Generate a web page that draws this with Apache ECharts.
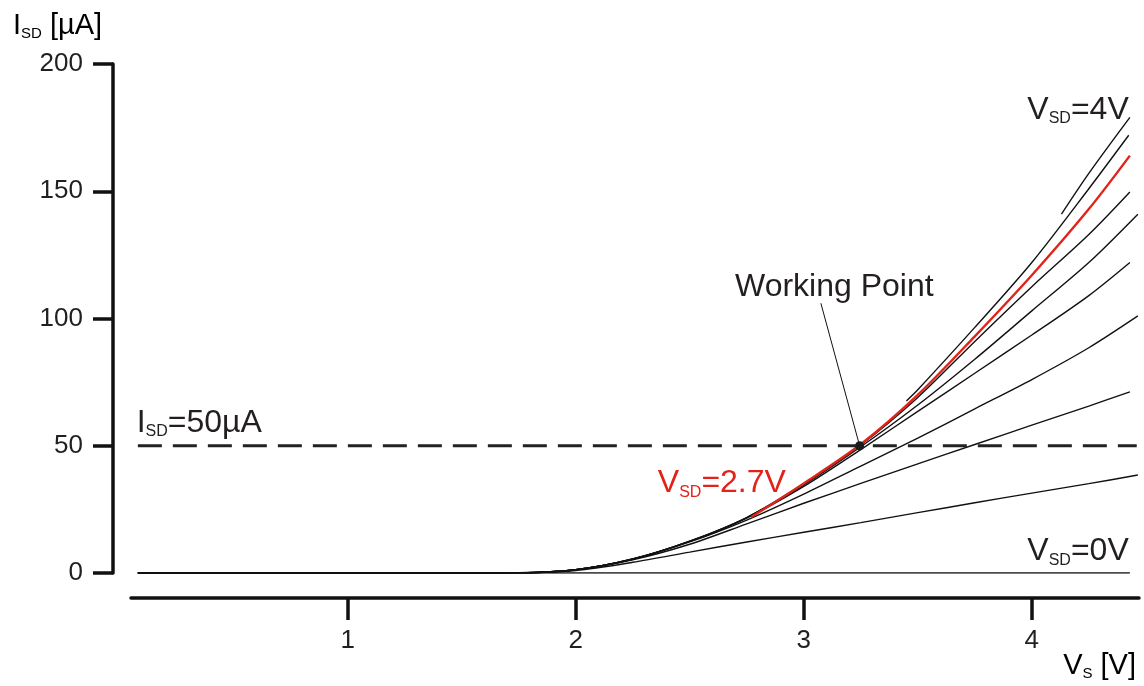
<!DOCTYPE html>
<html>
<head>
<meta charset="utf-8">
<title>I_SD vs V_S</title>
<script src="https://cdn.jsdelivr.net/npm/echarts@6/dist/echarts.min.js"></script>
<style>
  html, body { margin: 0; padding: 0; background: #fff; }
  #chart { width: 1144px; height: 686px; }
</style>
</head>
<body>
<div id="chart"></div>
<script>
// Transfer characteristics: source current I_SD [µA] against source voltage V_S [V],
// one curve per source-drain voltage V_SD.
const xTicks = [1, 2, 3, 4];
const yTicks = [0, 50, 100, 150, 200];

const vsd0  = [[0.08, 0], [4.43, 0]];
const vsd03 = [[0.08, 0], [1.0, 0], [1.5, 0], [1.75, 0.1], [2.0, 1.0], [2.25, 4.2], [2.5, 8.2], [2.75, 12.2], [3.0, 16.0], [3.25, 19.8], [3.5, 23.7], [3.75, 27.6], [4.0, 31.4], [4.25, 35.1], [4.465, 38.5]];
const vsd07 = [[0.08, 0], [1.0, 0], [1.5, 0], [1.75, 0.1], [2.0, 1.3], [2.25, 5.2], [2.5, 11.3], [2.75, 19.3], [3.0, 27.4], [3.25, 35.2], [3.5, 42.9], [3.75, 50.5], [4.0, 58.1], [4.25, 65.6], [4.43, 71.2]];
const vsd10 = [[0.08, 0], [1.0, 0], [1.5, 0], [1.75, 0.1], [2.0, 1.3], [2.25, 5.4], [2.5, 12.2], [2.75, 20.8], [3.0, 31.0], [3.25, 42.0], [3.5, 53.0], [3.75, 64.5], [4.0, 76.0], [4.25, 88.5], [4.465, 101]];
const vsd13 = [[0.08, 0], [1.0, 0], [1.5, 0], [1.75, 0.1], [2.0, 1.3], [2.25, 5.5], [2.5, 12.4], [2.75, 21.6], [3.0, 34.0], [3.25, 48.5], [3.5, 63.5], [3.75, 78.5], [4.0, 93.5], [4.25, 109], [4.43, 122]];
const vsd17 = [[0.08, 0], [1.0, 0], [1.5, 0], [1.75, 0.1], [2.0, 1.3], [2.25, 5.5], [2.5, 12.5], [2.75, 21.8], [3.0, 34.6], [3.25, 49.6], [3.5, 66.0], [3.75, 84.0], [4.0, 103], [4.25, 122], [4.465, 141]];
const vsd20 = [[0.08, 0], [1.0, 0], [1.5, 0], [1.75, 0.1], [2.0, 1.3], [2.25, 5.5], [2.5, 12.5], [2.75, 21.8], [3.0, 35.0], [3.25, 50.3], [3.5, 69.0], [3.75, 91.0], [4.0, 112.5], [4.25, 133], [4.43, 149.7]];
const vsd27 = [[2.77, 22], [3.0, 35.2], [3.25, 50.6], [3.5, 70], [3.75, 93], [4.0, 117], [4.25, 143], [4.43, 164]];
const vsd33 = [[3.45, 67.6], [3.5, 72], [3.75, 96.5], [4.0, 122], [4.25, 151], [4.425, 172]];
const vsd40 = [[4.13, 141], [4.25, 157], [4.43, 179]];

const targetCurrent = 50;          // I_SD = 50 µA
const targetSpan = [0.08, 4.46];   // extent of the dashed level line
const workingPoint = [3.245, 50];
const workingLabelAt = [3.134, 112.5];
const workingLeaderFrom = [3.075, 106];

const INK = '#231f20';
const RED = '#e2231a';
const FONT = '"Liberation Sans", Arial, Helvetica, sans-serif';

function subRich(color, size, subSize, lh) {
  return {
    m: { fontFamily: FONT, fontSize: size, lineHeight: lh, color: color },
    s: { fontFamily: FONT, fontSize: subSize, lineHeight: 12, verticalAlign: 'bottom', color: color }
  };
}

function curve(name, data, color, width) {
  return {
    name: name, type: 'line', data: data,
    showSymbol: false, symbol: 'none', smooth: 0.3,
    lineStyle: { color: color, width: width },
    silent: true, z: 2
  };
}

function note(coord, text, align, color) {
  return {
    value: coord,
    label: {
      show: true, position: 'inside', align: align, verticalAlign: 'middle',
      formatter: text, rich: subRich(color, 32, 16, 34)
    }
  };
}

const chart = echarts.init(document.getElementById('chart'), null, { renderer: 'canvas' });

chart.setOption({
  animation: false,
  backgroundColor: '#ffffff',
  grid: { left: 131, right: 5, top: 64, bottom: 113, containLabel: false },
  xAxis: {
    type: 'value', min: 0.05, max: 4.47, offset: 25,
    axisLine: { show: true, onZero: false, lineStyle: { color: '#111', width: 3.5 } },
    axisTick: { show: true, customValues: xTicks, length: 22, lineStyle: { color: '#111', width: 3.5 } },
    axisLabel: { customValues: xTicks, fontFamily: FONT, fontSize: 26, color: INK, margin: 30 },
    splitLine: { show: false }
  },
  yAxis: {
    type: 'value', min: yTicks[0], max: yTicks[yTicks.length - 1], interval: 50, offset: 18,
    axisLine: { show: true, onZero: false, lineStyle: { color: '#111', width: 3.5 } },
    axisTick: { show: true, length: 20, lineStyle: { color: '#111', width: 3.5 } },
    axisLabel: { fontFamily: FONT, fontSize: 26, color: INK, margin: 30 },
    splitLine: { show: false }
  },
  graphic: [
    {
      type: 'text', left: 13, top: 11,
      style: { text: '{m|I}{s|SD}{m| [µA]}', rich: subRich(INK, 29, 15, 32) }
    },
    {
      type: 'text', right: 8, top: 651,
      style: { text: '{m|V}{s|S}{m| [V]}', rich: subRich(INK, 29, 15, 32) }
    }
  ],
  series: [
    curve('0V', vsd0, '#111', 1.3),
    curve('0.33V', vsd03, '#111', 1.4),
    curve('0.67V', vsd07, '#111', 1.4),
    curve('1.0V', vsd10, '#111', 1.4),
    curve('1.33V', vsd13, '#111', 1.4),
    curve('1.67V', vsd17, '#111', 1.4),
    curve('2.0V', vsd20, '#111', 1.4),
    curve('3.3V', vsd33, '#111', 1.4),
    curve('4V', vsd40, '#111', 1.4),
    Object.assign(curve('2.7V', vsd27, RED, 2.4), { z: 3 }),
    {
      name: 'target', type: 'line', silent: true, z: 4,
      data: targetSpan.map(function (x) { return [x, targetCurrent]; }),
      showSymbol: false, symbol: 'none',
      lineStyle: { color: '#222', width: 3, type: [24, 11] }
    },
    {
      name: 'leader', type: 'line', silent: true, z: 4,
      data: [workingLeaderFrom, workingPoint],
      showSymbol: false, symbol: 'none',
      lineStyle: { color: '#111', width: 1 }
    },
    {
      name: 'working point', type: 'scatter', silent: true, z: 5,
      data: [workingPoint], symbol: 'circle', symbolSize: 9,
      itemStyle: { color: '#1a1a1a', opacity: 1 }
    },
    {
      name: 'notes', type: 'scatter', silent: true, z: 6,
      symbolSize: 1, itemStyle: { color: 'rgba(0,0,0,0)', opacity: 1 },
      data: [
        note([4.425, 182], '{m|V}{s|SD}{m|=4V}', 'right', INK),
        note([4.425, 8.6], '{m|V}{s|SD}{m|=0V}', 'right', INK),
        note([0.075, 59], '{m|I}{s|SD}{m|=50µA}', 'left', INK),
        note([2.36, 35.2], '{m|V}{s|SD}{m|=2.7V}', 'left', RED),
        note(workingLabelAt, '{m|Working Point}', 'center', INK)
      ]
    }
  ]
});
</script>
</body>
</html>
